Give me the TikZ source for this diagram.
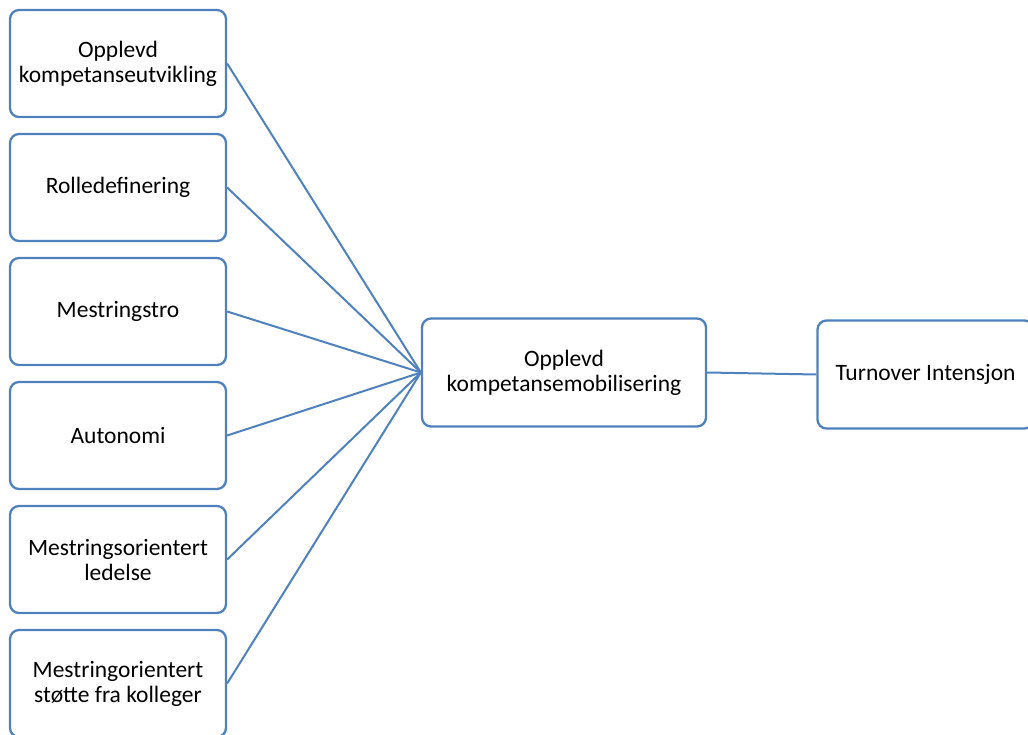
\documentclass[tikz,border=0pt]{standalone}
\usepackage{fontspec}
\setmainfont{Carlito}
\definecolor{boxblue}{HTML}{4F81BD}
\begin{document}
\begin{tikzpicture}[x=1pt,y=-1pt,
  box/.style={draw=boxblue,line width=2.3pt,rounded corners=9pt,fill=white,
    minimum width=216pt,minimum height=107pt,inner sep=0pt,align=center,
    font=\fontsize{23.5}{25}\selectfont,
    execute at begin node={\vspace*{3pt}}},
  link/.style={draw=boxblue,line width=2pt}]
\useasboundingbox (0,0) rectangle (1028,735);
\clip (0,0) rectangle (1028,735);
\node[box] (b1) at (118,63.5) {Opplevd\\kompetanseutvikling};
\node[box] (b2) at (118,187.5) {Rolledefinering};
\node[box] (b3) at (118,311.5) {Mestringstro};
\node[box] (b4) at (118,435.5) {Autonomi};
\node[box] (b5) at (118,559.5) {Mestringsorientert\\ledelse};
\node[box] (b6) at (118,683.5) {Mestringorientert\\støtte fra kolleger};
\node[box,minimum width=284pt,minimum height=108pt] (c) at (564,372.5) {Opplevd\\kompetansemobilisering};
\node[box,minimum height=108pt] (t) at (925.5,374.5) {Turnover Intensjon};
\foreach \n in {b1,b2,b3,b4,b5,b6} \draw[link] (\n.east) -- (c.west);
\draw[link] (c.east) -- (t.west);
\end{tikzpicture}
\end{document}
